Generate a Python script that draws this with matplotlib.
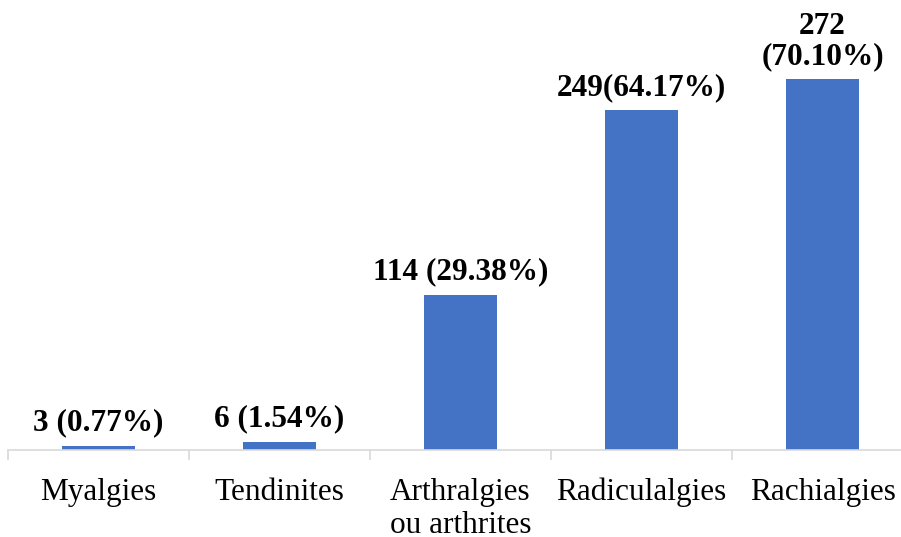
import numpy as np
import matplotlib
matplotlib.use("Agg")
import matplotlib.pyplot as plt

categories = ["Myalgies", "Tendinites", "Arthralgies\nou arthrites", "Radiculalgies", "Rachialgies"]
counts = [3, 6, 114, 249, 272]
labels = ["3 (0.77%)", "6 (1.54%)", "114 (29.38%)", "249(64.17%)", "272\n(70.10%)"]

plt.rcParams['font.family'] = ['Liberation Serif', 'DejaVu Serif']

fig = plt.figure(figsize=(9.01, 5.37), dpi=100)
# plot area runs a bit past the right edge, like the original
ax = fig.add_axes([8 / 901, 87 / 537, 905 / 901, 450 / 537])

x = np.arange(len(categories))
bars = ax.bar(x, counts, width=0.4, color="#4472c4")

for b, lab in zip(bars, labels):
    ax.annotate(lab, (b.get_x() + b.get_width() / 2, b.get_height()),
                xytext=(0, 6), textcoords="offset points",
                ha="center", va="bottom", fontsize=22.5, fontweight="bold",
                linespacing=1.05)

ax.set_xlim(-0.5, len(categories) - 0.5)
ax.set_ylim(0, 330)
ax.set_xticks(x)
ax.set_xticklabels(categories, fontsize=22.5, linespacing=1.17)
ax.set_xticks(np.arange(-0.5, len(categories), 1.0), minor=True)
ax.tick_params(axis="x", which="major", length=0, pad=20)
ax.tick_params(axis="x", which="minor", length=7, width=1.2, color="#d9d9d9")
ax.set_yticks([])
for s in ["top", "right", "left"]:
    ax.spines[s].set_visible(False)
ax.spines["bottom"].set_color("#d9d9d9")
ax.spines["bottom"].set_linewidth(1.2)

fig.savefig("out.png", dpi=100)
